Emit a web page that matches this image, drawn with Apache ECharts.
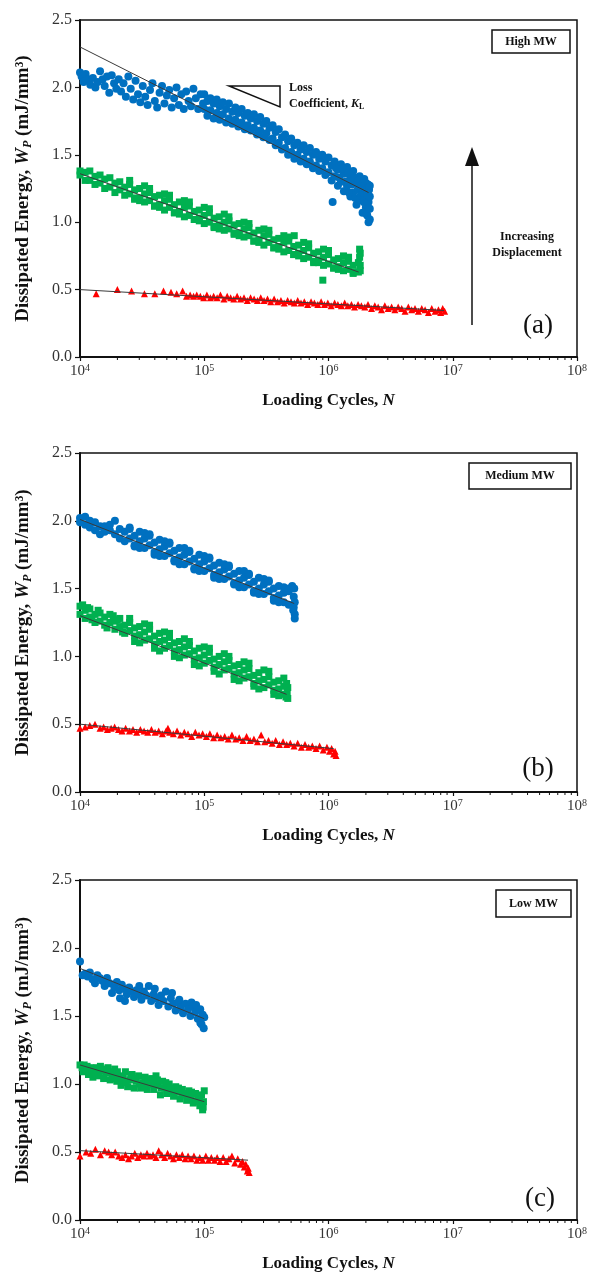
<!DOCTYPE html>
<html>
<head>
<meta charset="utf-8">
<script src="https://cdn.jsdelivr.net/npm/echarts@6/dist/echarts.min.js"></script>
<style>
  html, body { margin: 0; padding: 0; background: #fff; }
  #chart { width: 590px; height: 1273px; }
</style>
</head>
<body>
<div id="chart"></div>
<script>
// ---- data: [loading cycles N, dissipated energy W_P] ----
const highBlue = [[1.00e4,2.11],[1.03e4,2.08],[1.07e4,2.04],[1.11e4,2.10],[1.16e4,2.06],[1.21e4,2.02],[1.27e4,2.07],[1.33e4,2.00],[1.39e4,2.04],[1.45e4,2.12],[1.52e4,2.06],[1.58e4,2.01],[1.65e4,2.08],[1.72e4,1.96],[1.80e4,2.09],[1.88e4,2.03],[1.96e4,1.99],[2.05e4,2.06],[2.14e4,1.97],[2.24e4,2.03],[2.34e4,1.93],[2.45e4,2.08],[2.56e4,1.99],[2.68e4,1.91],[2.80e4,2.05],[2.93e4,1.95],[3.06e4,1.89],[3.20e4,2.01],[3.35e4,1.93],[3.50e4,1.87],[3.66e4,1.98],[3.83e4,2.03],[4.00e4,1.90],[4.18e4,1.85],[4.37e4,1.96],[4.57e4,2.01],[4.78e4,1.88],[5.00e4,1.94],[5.23e4,1.98],[5.47e4,1.85],[5.72e4,1.92],[5.98e4,2.00],[6.25e4,1.87],[6.54e4,1.95],[6.84e4,1.84],[7.15e4,1.97],[7.48e4,1.90],[7.82e4,1.86],[8.18e4,1.99],[8.55e4,1.92],[8.94e4,1.84],[9.35e4,1.95],[9.78e4,1.88],
  [1.00e5,1.95],[1.00e5,1.84],[1.06e5,1.90],[1.06e5,1.79],[1.12e5,1.92],[1.12e5,1.83],[1.19e5,1.88],[1.19e5,1.77],[1.26e5,1.91],[1.26e5,1.81],[1.33e5,1.86],[1.33e5,1.76],[1.41e5,1.89],[1.41e5,1.80],[1.50e5,1.84],[1.50e5,1.74],[1.58e5,1.88],[1.58e5,1.77],[1.68e5,1.82],[1.68e5,1.73],[1.78e5,1.85],[1.78e5,1.76],[1.88e5,1.81],[1.88e5,1.71],[2.00e5,1.84],[2.00e5,1.74],[2.12e5,1.79],[2.12e5,1.69],[2.24e5,1.81],[2.24e5,1.72],[2.37e5,1.77],[2.37e5,1.68],[2.51e5,1.80],[2.51e5,1.70],[2.66e5,1.75],[2.66e5,1.65],[2.82e5,1.78],[2.82e5,1.68],[2.99e5,1.73],[2.99e5,1.63],[3.16e5,1.75],[3.16e5,1.66],[3.35e5,1.70],[3.35e5,1.61],[3.55e5,1.72],[3.55e5,1.62],[3.76e5,1.67],[3.76e5,1.57],[3.98e5,1.69],[3.98e5,1.59],[4.22e5,1.63],[4.22e5,1.54],[4.47e5,1.65],[4.47e5,1.55],[4.73e5,1.60],[4.73e5,1.50],[5.01e5,1.62],[5.01e5,1.52],[5.31e5,1.57],[5.31e5,1.47],[5.62e5,1.59],[5.62e5,1.50],[5.96e5,1.54],[5.96e5,1.45],[6.31e5,1.57],[6.31e5,1.47],[6.68e5,1.52],[6.68e5,1.43],[7.08e5,1.55],[7.08e5,1.45],[7.50e5,1.50],[7.50e5,1.40],[7.94e5,1.52],[7.94e5,1.42],[8.41e5,1.47],[8.41e5,1.38],[8.91e5,1.50],[8.91e5,1.40],[9.44e5,1.45],[9.44e5,1.35],[1.00e6,1.48],[1.00e6,1.37],[1.06e6,1.42],[1.06e6,1.31],[1.08e6,1.15],[1.12e6,1.45],[1.12e6,1.34],[1.19e6,1.39],[1.19e6,1.27],[1.26e6,1.43],[1.26e6,1.30],[1.33e6,1.36],[1.33e6,1.23],[1.41e6,1.41],[1.41e6,1.27],[1.50e6,1.33],[1.50e6,1.19],[1.58e6,1.38],[1.58e6,1.22],[1.68e6,1.29],[1.68e6,1.13],[1.78e6,1.34],[1.78e6,1.17],[1.88e6,1.24],[1.88e6,1.07],[2.00e6,1.29],[2.00e6,1.11],
  [1.15e6,1.40],[1.22e6,1.33],[1.30e6,1.40],[1.37e6,1.30],[1.45e6,1.36],[1.46e6,1.22],[1.54e6,1.28],[1.62e6,1.33],[1.64e6,1.18],[1.72e6,1.24],[1.74e6,1.31],[1.82e6,1.20],[1.84e6,1.28],[1.92e6,1.15],[1.94e6,1.32],[1.96e6,1.20],[2.02e6,1.25],[2.03e6,1.06],
  [2.05e6,1.20],[2.05e6,1.05],[2.08e6,1.28],[2.10e6,1.00],[2.10e6,1.15],[2.12e6,1.24],[2.15e6,1.02],[2.15e6,1.10],[2.15e6,1.19],[2.15e6,1.27]];
const highGreen = [[1.00e4,1.38],[1.00e4,1.35],[1.10e4,1.37],[1.10e4,1.31],[1.20e4,1.38],[1.20e4,1.31],[1.32e4,1.34],[1.32e4,1.28],[1.45e4,1.35],[1.45e4,1.29],[1.58e4,1.32],[1.58e4,1.25],[1.74e4,1.33],[1.74e4,1.26],[1.91e4,1.29],[1.91e4,1.22],[2.09e4,1.30],[2.09e4,1.24],[2.29e4,1.26],[2.29e4,1.20],[2.51e4,1.28],[2.51e4,1.21],[2.75e4,1.24],[2.75e4,1.17],[3.02e4,1.25],[3.02e4,1.18],[3.31e4,1.21],[3.31e4,1.15],[3.63e4,1.22],[3.63e4,1.16],[3.98e4,1.19],[3.98e4,1.12],[4.37e4,1.20],[4.37e4,1.13],[4.79e4,1.16],[4.79e4,1.09],[5.25e4,1.17],[5.25e4,1.11],[5.75e4,1.13],[5.75e4,1.07],[6.31e4,1.15],[6.31e4,1.08],[6.92e4,1.11],[6.92e4,1.04],[7.59e4,1.12],[7.59e4,1.05],[8.32e4,1.08],[8.32e4,1.02],[9.12e4,1.09],[9.12e4,1.03],[1.00e5,1.05],[1.00e5,0.99],[1.10e5,1.07],[1.10e5,1.00],[1.20e5,1.03],[1.20e5,0.96],[1.32e5,1.04],[1.32e5,0.98],[1.45e5,1.00],[1.45e5,0.94],[1.58e5,1.01],[1.58e5,0.95],[1.74e5,0.98],[1.74e5,0.91],[1.91e5,0.99],[1.91e5,0.92],[2.09e5,0.95],[2.09e5,0.89],[2.29e5,0.96],[2.29e5,0.90],[2.51e5,0.92],[2.51e5,0.86],[2.75e5,0.94],[2.75e5,0.87],[3.02e5,0.90],[3.02e5,0.83],[3.31e5,0.91],[3.31e5,0.85],[3.63e5,0.87],[3.63e5,0.81],[3.98e5,0.88],[3.98e5,0.82],[4.37e5,0.85],[4.37e5,0.78],[4.79e5,0.86],[4.79e5,0.79],[5.25e5,0.82],[5.25e5,0.76],[5.30e5,0.90],[5.75e5,0.83],[5.75e5,0.77],[6.31e5,0.79],[6.31e5,0.73],[6.92e5,0.81],[6.92e5,0.74],[7.59e5,0.77],[7.59e5,0.70],[8.32e5,0.78],[8.32e5,0.72],[9.00e5,0.57],[9.12e5,0.74],[9.12e5,0.68],[1.00e6,0.76],[1.00e6,0.69],[1.10e6,0.72],[1.10e6,0.66],[1.20e6,0.73],[1.20e6,0.67],[1.32e6,0.70],[1.32e6,0.64],[1.45e6,0.71],[1.45e6,0.65],[1.58e6,0.68],[1.58e6,0.63],[1.74e6,0.70],[1.74e6,0.63],[1.78e6,0.80],[1.78e6,0.74],[1.80e6,0.68],[1.80e6,0.77],[1.80e6,0.64],
  [2.51e4,1.31],[2.75e4,1.18],[3.02e4,1.16],[3.31e4,1.27],[3.63e4,1.25],[3.98e4,1.12],[4.37e4,1.11],[4.79e4,1.21],[5.25e4,1.20],[5.75e4,1.07],[6.31e4,1.06],[6.92e4,1.16],[7.59e4,1.15],[8.32e4,1.02],[9.12e4,1.01],[1.00e5,1.11],[1.10e5,1.10],[1.20e5,0.97],[1.32e5,0.95],[1.45e5,1.06],[1.58e5,1.04],[1.74e5,0.92],[1.91e5,0.90],[2.09e5,1.00],[2.29e5,0.99],[2.51e5,0.86],[2.75e5,0.85],[3.02e5,0.95],[3.31e5,0.94],[3.63e5,0.81],[3.98e5,0.80],[4.37e5,0.90],[4.79e5,0.89],[5.25e5,0.76],[5.75e5,0.75],[6.31e5,0.85],[6.92e5,0.84],[7.59e5,0.71],[8.32e5,0.70],[9.12e5,0.80],[1.00e6,0.79],[1.10e6,0.66],[1.20e6,0.65],[1.32e6,0.75],[1.45e6,0.74],[1.58e6,0.62]];
const highRed = [[1.35e4,0.47],[2.0e4,0.50],[2.6e4,0.49],[3.3e4,0.47],[4.0e4,0.47],[4.7e4,0.49],[5.4e4,0.48],[6.0e4,0.47],[6.7e4,0.49],[7.2e4,0.45],[7.7e4,0.46],[8.2e4,0.45],[8.7e4,0.46],[9.3e4,0.45],[9.9e4,0.44],[1.05e5,0.46],[1.12e5,0.44],[1.19e5,0.45],[1.27e5,0.44],[1.35e5,0.46],[1.44e5,0.43],[1.53e5,0.45],[1.63e5,0.44],[1.73e5,0.43],[1.84e5,0.45],[1.96e5,0.43],[2.09e5,0.44],[2.22e5,0.42],[2.36e5,0.44],[2.52e5,0.43],[2.68e5,0.42],[2.85e5,0.44],[3.03e5,0.42],[3.23e5,0.43],[3.43e5,0.41],[3.65e5,0.43],[3.89e5,0.41],[4.14e5,0.42],[4.40e5,0.40],[4.69e5,0.42],[4.99e5,0.41],[5.31e5,0.40],[5.65e5,0.42],[6.01e5,0.40],[6.39e5,0.41],[6.80e5,0.39],[7.24e5,0.41],[7.70e5,0.40],[8.20e5,0.39],[8.72e5,0.41],[9.28e5,0.39],[9.87e5,0.40],[1.05e6,0.38],[1.12e6,0.40],[1.19e6,0.39],[1.27e6,0.38],[1.35e6,0.40],[1.43e6,0.38],[1.53e6,0.39],[1.62e6,0.37],[1.73e6,0.39],[1.84e6,0.38],[1.96e6,0.37],[2.08e6,0.39],[2.22e6,0.36],[2.36e6,0.38],[2.51e6,0.37],[2.67e6,0.35],[2.84e6,0.38],[3.02e6,0.36],[3.22e6,0.37],[3.42e6,0.35],[3.64e6,0.37],[3.88e6,0.36],[4.13e6,0.34],[4.39e6,0.37],[4.67e6,0.35],[4.97e6,0.36],[5.29e6,0.34],[5.63e6,0.36],[5.99e6,0.35],[6.37e6,0.33],[6.78e6,0.36],[7.21e6,0.34],[7.67e6,0.35],[8.00e6,0.33],[8.30e6,0.36],[8.60e6,0.34]];

const mediumBlue = [[1.00e4,2.02],[1.00e4,1.99],[1.10e4,2.03],[1.10e4,1.97],[1.20e4,2.00],[1.20e4,1.95],[1.32e4,1.99],[1.32e4,1.93],[1.45e4,1.96],[1.45e4,1.90],[1.58e4,1.96],[1.58e4,1.92],[1.74e4,1.97],[1.74e4,1.93],[1.91e4,2.00],[1.91e4,1.90],[2.09e4,1.94],[2.09e4,1.87],[2.29e4,1.92],[2.29e4,1.85],[2.51e4,1.94],[2.51e4,1.87],[2.75e4,1.89],[2.75e4,1.82],[3.02e4,1.92],[3.02e4,1.85],[3.31e4,1.87],[3.31e4,1.80],[3.63e4,1.89],[3.63e4,1.82],[3.98e4,1.84],[3.98e4,1.77],[4.37e4,1.86],[4.37e4,1.79],[4.79e4,1.81],[4.79e4,1.74],[5.25e4,1.83],[5.25e4,1.76],[5.75e4,1.78],[5.75e4,1.71],[6.31e4,1.80],[6.31e4,1.73],[6.92e4,1.75],[6.92e4,1.68],[7.59e4,1.77],[7.59e4,1.70],[8.32e4,1.72],[8.32e4,1.65],[9.12e4,1.75],[9.12e4,1.68],[1.00e5,1.70],[1.00e5,1.63],[1.10e5,1.72],[1.10e5,1.65],[1.20e5,1.67],[1.20e5,1.60],[1.32e5,1.69],[1.32e5,1.62],[1.45e5,1.64],[1.45e5,1.57],[1.58e5,1.66],[1.58e5,1.59],[1.74e5,1.61],[1.74e5,1.54],[1.91e5,1.63],[1.91e5,1.56],[2.09e5,1.58],[2.09e5,1.51],[2.29e5,1.60],[2.29e5,1.53],[2.51e5,1.55],[2.51e5,1.48],[2.75e5,1.58],[2.75e5,1.50],[3.02e5,1.53],[3.02e5,1.46],[3.31e5,1.55],[3.31e5,1.48],[3.63e5,1.50],[3.63e5,1.43],[3.98e5,1.52],[3.98e5,1.45],[4.37e5,1.47],[4.37e5,1.40],[4.79e5,1.48],[4.79e5,1.38],[5.10e5,1.52],[5.20e5,1.34],[5.25e5,1.44],[5.25e5,1.36],[5.30e5,1.50],[5.35e5,1.40],[5.35e5,1.31],[5.35e5,1.28],
  [2.51e4,1.95],[2.75e4,1.81],[3.02e4,1.80],[3.31e4,1.91],[3.63e4,1.90],[3.98e4,1.75],[4.37e4,1.74],[4.79e4,1.85],[5.25e4,1.84],[5.75e4,1.70],[6.31e4,1.68],[6.92e4,1.80],[7.59e4,1.78],[8.32e4,1.64],[9.12e4,1.63],[1.00e5,1.74],[1.10e5,1.73],[1.20e5,1.58],[1.32e5,1.57],[1.45e5,1.68],[1.58e5,1.67],[1.74e5,1.53],[1.91e5,1.51],[2.09e5,1.63],[2.29e5,1.61],[2.51e5,1.47],[2.75e5,1.46],[3.02e5,1.57],[3.31e5,1.56],[3.63e5,1.41],[3.98e5,1.40],[4.37e5,1.51],[4.79e5,1.50]];
const mediumGreen = [[1.00e4,1.37],[1.00e4,1.31],[1.10e4,1.34],[1.10e4,1.28],[1.20e4,1.35],[1.20e4,1.29],[1.32e4,1.31],[1.32e4,1.25],[1.45e4,1.32],[1.45e4,1.26],[1.58e4,1.29],[1.58e4,1.23],[1.74e4,1.31],[1.74e4,1.25],[1.91e4,1.26],[1.91e4,1.20],[2.09e4,1.28],[2.09e4,1.22],[2.29e4,1.23],[2.29e4,1.17],[2.51e4,1.25],[2.51e4,1.19],[2.75e4,1.21],[2.75e4,1.15],[3.02e4,1.22],[3.02e4,1.16],[3.31e4,1.18],[3.31e4,1.12],[3.63e4,1.20],[3.63e4,1.13],[3.98e4,1.15],[3.98e4,1.09],[4.37e4,1.17],[4.37e4,1.11],[4.79e4,1.12],[4.79e4,1.06],[5.25e4,1.14],[5.25e4,1.08],[5.75e4,1.10],[5.75e4,1.04],[6.31e4,1.11],[6.31e4,1.05],[6.92e4,1.07],[6.92e4,1.01],[7.59e4,1.08],[7.59e4,1.02],[8.32e4,1.04],[8.32e4,0.98],[9.12e4,1.06],[9.12e4,0.99],[1.00e5,1.01],[1.00e5,0.95],[1.10e5,1.03],[1.10e5,0.97],[1.20e5,0.98],[1.20e5,0.92],[1.32e5,1.00],[1.32e5,0.94],[1.45e5,0.96],[1.45e5,0.90],[1.58e5,0.97],[1.58e5,0.91],[1.74e5,0.93],[1.74e5,0.87],[1.91e5,0.94],[1.91e5,0.88],[2.09e5,0.90],[2.09e5,0.84],[2.29e5,0.91],[2.29e5,0.85],[2.51e5,0.86],[2.51e5,0.80],[2.75e5,0.88],[2.75e5,0.82],[3.02e5,0.83],[3.02e5,0.77],[3.31e5,0.85],[3.31e5,0.79],[3.63e5,0.81],[3.63e5,0.75],[3.98e5,0.82],[3.98e5,0.76],[4.37e5,0.78],[4.37e5,0.72],[4.55e5,0.70],[4.60e5,0.80],[4.65e5,0.74],[4.70e5,0.69],[4.70e5,0.77],
  [1.05e4,1.38],[1.15e4,1.36],[1.25e4,1.27],[1.40e4,1.34],[1.65e4,1.21],[1.85e4,1.30],[2.00e4,1.27],[2.20e4,1.18],[2.51e4,1.28],[2.75e4,1.11],[3.02e4,1.10],[3.31e4,1.24],[3.63e4,1.23],[3.98e4,1.06],[4.37e4,1.04],[4.79e4,1.18],[5.25e4,1.17],[5.75e4,1.00],[6.31e4,0.99],[6.92e4,1.13],[7.59e4,1.11],[8.32e4,0.94],[9.12e4,0.93],[1.00e5,1.07],[1.10e5,1.06],[1.20e5,0.89],[1.32e5,0.87],[1.45e5,1.02],[1.58e5,1.00],[1.74e5,0.83],[1.91e5,0.82],[2.09e5,0.96],[2.29e5,0.95],[2.51e5,0.78],[2.75e5,0.76],[3.02e5,0.90],[3.31e5,0.89],[3.63e5,0.72],[3.98e5,0.71],[4.37e5,0.84]];
const mediumRed = [[1.00e4,0.47],[1.10e4,0.48],[1.20e4,0.49],[1.32e4,0.50],[1.45e4,0.47],[1.55e4,0.48],[1.66e4,0.46],[1.78e4,0.47],[1.90e4,0.48],[2.04e4,0.46],[2.18e4,0.45],[2.33e4,0.47],[2.50e4,0.45],[2.67e4,0.46],[2.86e4,0.44],[3.06e4,0.46],[3.28e4,0.45],[3.51e4,0.44],[3.76e4,0.46],[4.02e4,0.44],[4.30e4,0.45],[4.60e4,0.43],[4.93e4,0.45],[5.10e4,0.47],[5.27e4,0.44],[5.64e4,0.43],[6.04e4,0.45],[6.46e4,0.42],[6.91e4,0.44],[7.40e4,0.43],[7.92e4,0.41],[8.47e4,0.44],[9.07e4,0.42],[9.70e4,0.43],[1.04e5,0.41],[1.11e5,0.43],[1.19e5,0.40],[1.27e5,0.42],[1.36e5,0.40],[1.46e5,0.41],[1.56e5,0.39],[1.67e5,0.42],[1.79e5,0.39],[1.91e5,0.40],[2.05e5,0.38],[2.19e5,0.41],[2.34e5,0.38],[2.51e5,0.39],[2.68e5,0.37],[2.87e5,0.42],[3.07e5,0.37],[3.29e5,0.38],[3.52e5,0.36],[3.76e5,0.38],[4.03e5,0.35],[4.31e5,0.37],[4.61e5,0.35],[4.93e5,0.36],[5.28e5,0.34],[5.65e5,0.36],[6.05e5,0.33],[6.47e5,0.35],[6.92e5,0.33],[7.41e5,0.34],[7.93e5,0.32],[8.48e5,0.34],[9.07e5,0.31],[9.71e5,0.33],[1.02e6,0.30],[1.06e6,0.32],[1.10e6,0.28],[1.13e6,0.30],[1.15e6,0.27]];

const lowBlue = [[1.00e4,1.90],[1.05e4,1.80],[1.10e4,1.81],[1.15e4,1.79],[1.20e4,1.82],[1.26e4,1.77],[1.32e4,1.74],[1.38e4,1.80],[1.44e4,1.78],[1.51e4,1.76],[1.58e4,1.72],[1.65e4,1.78],[1.73e4,1.74],[1.81e4,1.67],[1.89e4,1.71],[1.98e4,1.75],[2.07e4,1.69],[2.10e4,1.63],[2.17e4,1.73],[2.27e4,1.70],[2.30e4,1.61],[2.38e4,1.66],[2.49e4,1.71],[2.60e4,1.68],[2.72e4,1.64],[2.85e4,1.69],[2.98e4,1.66],[3.00e4,1.72],[3.12e4,1.62],[3.27e4,1.68],[3.42e4,1.65],[3.58e4,1.72],[3.74e4,1.61],[3.92e4,1.66],[4.00e4,1.70],[4.10e4,1.63],[4.29e4,1.58],[4.49e4,1.65],[4.70e4,1.61],[4.91e4,1.68],[5.14e4,1.57],[5.38e4,1.63],[5.50e4,1.67],[5.63e4,1.59],[5.89e4,1.54],[6.17e4,1.60],[6.30e4,1.62],[6.45e4,1.56],[6.75e4,1.52],[7.07e4,1.59],[7.40e4,1.55],[7.74e4,1.50],[7.90e4,1.60],[8.10e4,1.57],[8.47e4,1.53],[8.60e4,1.58],[8.87e4,1.48],[9.28e4,1.55],[9.30e4,1.45],[9.50e4,1.44],[9.71e4,1.51],[9.90e4,1.41],[1.00e5,1.49]];
const lowGreen = [[1.00e4,1.14],[1.04e4,1.12],[1.08e4,1.14],[1.12e4,1.10],[1.17e4,1.07],[1.22e4,1.12],[1.27e4,1.05],[1.32e4,1.09],[1.37e4,1.12],[1.43e4,1.06],[1.49e4,1.10],[1.55e4,1.04],[1.61e4,1.08],[1.68e4,1.12],[1.75e4,1.03],[1.82e4,1.07],[1.90e4,1.11],[1.98e4,1.02],[2.06e4,1.06],[2.14e4,0.99],[2.23e4,1.05],[2.32e4,1.09],[2.42e4,0.98],[2.52e4,1.03],[2.62e4,1.07],[2.73e4,0.97],[2.84e4,1.02],[2.96e4,1.06],[3.08e4,0.97],[3.21e4,1.01],[3.34e4,1.05],[3.48e4,0.96],[3.62e4,1.00],[3.77e4,1.04],[3.93e4,0.96],[4.09e4,1.06],[4.26e4,0.99],[4.44e4,0.92],[4.62e4,1.02],[4.81e4,0.97],[5.01e4,0.93],[5.22e4,1.00],[5.43e4,0.95],[5.66e4,0.91],[5.89e4,0.98],[6.14e4,0.94],[6.39e4,0.89],[6.66e4,0.96],[6.93e4,0.92],[7.22e4,0.88],[7.52e4,0.95],[7.83e4,0.90],[8.16e4,0.86],[8.50e4,0.93],[8.85e4,0.89],[9.22e4,0.84],[9.50e4,0.92],[9.70e4,0.81],[9.85e4,0.87],[1.00e5,0.95],
  [1.06e4,1.09],[1.14e4,1.13],[1.24e4,1.10],[1.35e4,1.07],[1.46e4,1.13],[1.58e4,1.11],[1.72e4,1.09],[1.86e4,1.04],[2.00e4,1.09],[2.18e4,1.04],[2.36e4,1.01],[2.56e4,1.06],[2.78e4,1.04],[3.00e4,1.00],[3.25e4,0.98],[3.55e4,1.03],[3.85e4,1.00],[4.20e4,1.03],[4.50e4,0.97],[4.90e4,1.01],[5.30e4,0.97],[5.70e4,0.94],[6.20e4,0.97],[6.70e4,0.93],[7.30e4,0.91],[7.90e4,0.94],[8.60e4,0.87],[9.20e4,0.90],[9.60e4,0.86],[9.80e4,0.83]];
const lowRed = [[1.00e4,0.47],[1.12e4,0.50],[1.22e4,0.49],[1.33e4,0.52],[1.46e4,0.48],[1.58e4,0.51],[1.70e4,0.50],[1.80e4,0.48],[1.92e4,0.50],[2.05e4,0.47],[2.18e4,0.46],[2.32e4,0.48],[2.46e4,0.45],[2.60e4,0.47],[2.76e4,0.49],[2.92e4,0.46],[3.09e4,0.48],[3.27e4,0.47],[3.46e4,0.49],[3.66e4,0.47],[3.87e4,0.48],[4.09e4,0.46],[4.30e4,0.51],[4.55e4,0.48],[4.80e4,0.46],[5.07e4,0.49],[5.35e4,0.47],[5.65e4,0.45],[5.97e4,0.48],[6.30e4,0.46],[6.65e4,0.48],[7.02e4,0.45],[7.41e4,0.47],[7.82e4,0.45],[8.26e4,0.47],[8.72e4,0.44],[9.20e4,0.46],[9.71e4,0.44],[1.03e5,0.47],[1.08e5,0.44],[1.14e5,0.46],[1.21e5,0.44],[1.27e5,0.46],[1.34e5,0.43],[1.42e5,0.46],[1.50e5,0.43],[1.58e5,0.45],[1.67e5,0.47],[1.76e5,0.42],[1.86e5,0.45],[1.96e5,0.41],[2.03e5,0.43],[2.10e5,0.39],[2.16e5,0.41],[2.22e5,0.36],[2.26e5,0.38],[2.30e5,0.35]];

// fitted trend lines (end points)
const highFits = [[[1e4,2.30],[2.1e6,1.22]], [[1e4,1.36],[1.75e6,0.63]], [[1e4,0.50],[8.5e6,0.345]]];
const mediumFits = [[[1e4,2.01],[5.3e5,1.39]], [[1e4,1.30],[4.6e5,0.72]], [[1e4,0.50],[1.1e6,0.32]]];
const lowFits = [[[1e4,1.85],[1e5,1.48]], [[1e4,1.14],[1e5,0.87]], [[1e4,0.51],[2.25e5,0.44]]];

// minor tick positions on the log axis (2..9 x 10^k)
const minorTickValues = [];
[1e4, 1e5, 1e6, 1e7].forEach(d => [2, 3, 4, 5, 6, 7, 8, 9].forEach(m => minorTickValues.push([m * d, 0])));

const panelTags = ['High MW', 'Medium MW', 'Low MW'];
const panelLetters = ['(a)', '(b)', '(c)'];

const serif = '"Liberation Serif", "Times New Roman", serif';
const colors = { blue: '#0070C0', green: '#00B050', red: '#FF0000' };

// layout of the three plot boxes
const grids = [
  { left: 80, top: 20, width: 498, height: 337 },
  { left: 80, top: 453, width: 498, height: 339 },
  { left: 80, top: 880, width: 498, height: 344 }
];

const panels = [
  { blue: highBlue, green: highGreen, red: highRed, fits: highFits },
  { blue: mediumBlue, green: mediumGreen, red: mediumRed, fits: mediumFits },
  { blue: lowBlue, green: lowGreen, red: lowRed, fits: lowFits }
];

const chart = echarts.init(document.getElementById('chart'));

const xAxes = grids.map((g, i) => ({
  type: 'log',
  logBase: 10,
  gridIndex: i,
  min: 1e4,
  max: 1e8,
  name: '{b|Loading Cycles, }{bi|N}',
  nameLocation: 'middle',
  nameGap: 35,
  nameTextStyle: {
    rich: {
      b: { fontFamily: serif, fontWeight: 'bold', fontSize: 17, color: '#111' },
      bi: { fontFamily: serif, fontWeight: 'bold', fontStyle: 'italic', fontSize: 17, color: '#111' }
    }
  },
  axisLine: { lineStyle: { color: '#111', width: 2 } },
  axisTick: { inside: false, length: 4, lineStyle: { color: '#111', width: 1.2 } },
  minorTick: { show: false },
  splitLine: { show: false },
  axisLabel: {
    margin: 6,
    formatter: v => '{b|10}{s|' + Math.round(Math.log10(v)) + '}',
    rich: {
      b: { fontFamily: serif, fontSize: 15, color: '#333', lineHeight: 16, verticalAlign: 'bottom' },
      s: { fontFamily: serif, fontSize: 10, color: '#333', lineHeight: 16, verticalAlign: 'top' }
    }
  }
}));

const yAxes = grids.map((g, i) => ({
  type: 'value',
  gridIndex: i,
  min: 0,
  max: 2.5,
  interval: 0.5,
  name: '{b|Dissipated Energy, }{bi|W}{sub|P}{b| (mJ/mm³)}',
  nameLocation: 'middle',
  nameRotate: 90,
  nameGap: 46,
  nameTextStyle: {
    rich: {
      b: { fontFamily: serif, fontWeight: 'bold', fontSize: 19, color: '#111', lineHeight: 21 },
      bi: { fontFamily: serif, fontWeight: 'bold', fontStyle: 'italic', fontSize: 19, color: '#111', lineHeight: 21 },
      sub: { fontFamily: serif, fontWeight: 'bold', fontStyle: 'italic', fontSize: 12, color: '#111', lineHeight: 21, verticalAlign: 'bottom' }
    }
  },
  axisLine: { show: true, lineStyle: { color: '#111', width: 2 } },
  axisTick: { show: true, length: 5, lineStyle: { color: '#111', width: 1.2 } },
  splitLine: { show: false },
  axisLabel: {
    fontFamily: serif, fontSize: 16, color: '#333', margin: 8,
    formatter: v => v.toFixed(1)
  }
}));

const series = [];
panels.forEach((p, i) => {
  series.push({
    type: 'scatter', xAxisIndex: i, yAxisIndex: i, data: p.blue,
    symbol: 'circle', symbolSize: 8, itemStyle: { color: colors.blue, opacity: 1 }, silent: true
  });
  series.push({
    type: 'scatter', xAxisIndex: i, yAxisIndex: i, data: p.green,
    symbol: 'rect', symbolSize: 7, itemStyle: { color: colors.green, opacity: 1 }, silent: true
  });
  series.push({
    type: 'scatter', xAxisIndex: i, yAxisIndex: i, data: p.red,
    symbol: 'triangle', symbolSize: 7, itemStyle: { color: colors.red, opacity: 1 }, silent: true
  });
  p.fits.forEach(f => {
    series.push({
      type: 'line', xAxisIndex: i, yAxisIndex: i, data: f, z: 5,
      showSymbol: false, symbol: 'none', silent: true,
      lineStyle: { color: '#3a3a3a', width: 1 }
    });
  });
  // minor ticks below the x axis
  series.push({
    type: 'custom', xAxisIndex: i, yAxisIndex: i, data: minorTickValues, z: 6, silent: true, clip: false,
    renderItem: (params, api) => {
      const pt = api.coord([api.value(0), 0]);
      return {
        type: 'line',
        shape: { x1: pt[0], y1: pt[1], x2: pt[0], y2: pt[1] + 3 },
        style: { stroke: '#111', lineWidth: 1 }
      };
    }
  });
});

// annotation boxes, panel letters and the arrow / loss-coefficient sketch
const tagBoxes = [
  { x: 492, y: 30, w: 78, h: 23 },
  { x: 469, y: 463, w: 102, h: 26 },
  { x: 496, y: 890, w: 75, h: 27 }
];
const letterPos = [[538, 326], [538, 769], [540, 1199]];

const graphic = [];
tagBoxes.forEach((b, i) => {
  graphic.push({
    type: 'rect', shape: { x: b.x, y: b.y, width: b.w, height: b.h },
    style: { fill: '#fff', stroke: '#111', lineWidth: 1.5 }, z: 10
  });
  graphic.push({
    type: 'text', x: b.x + b.w / 2, y: b.y + b.h / 2, z: 11,
    style: { text: panelTags[i], fontFamily: serif, fontWeight: 'bold', fontSize: 12, fill: '#111', align: 'center', verticalAlign: 'middle' }
  });
  graphic.push({
    type: 'text', x: letterPos[i][0], y: letterPos[i][1], z: 11,
    style: { text: panelLetters[i], fontFamily: serif, fontSize: 27, fill: '#111', align: 'center', verticalAlign: 'middle' }
  });
});
// loss coefficient triangle
graphic.push({
  type: 'polygon', z: 10,
  shape: { points: [[229, 86], [280, 86], [280, 107]] },
  style: { fill: 'none', stroke: '#111', lineWidth: 1.5 }
});
graphic.push({
  type: 'text', x: 289, y: 88, z: 11,
  style: { text: 'Loss', fontFamily: serif, fontWeight: 'bold', fontSize: 12, fill: '#111', verticalAlign: 'middle' }
});
graphic.push({
  type: 'text', x: 289, y: 104, z: 11,
  style: {
    text: '{b|Coefficient, }{bi|K}{sub|L}', verticalAlign: 'middle',
    rich: {
      b: { fontFamily: serif, fontWeight: 'bold', fontSize: 12, fill: '#111', lineHeight: 14 },
      bi: { fontFamily: serif, fontWeight: 'bold', fontStyle: 'italic', fontSize: 12, fill: '#111', lineHeight: 14 },
      sub: { fontFamily: serif, fontWeight: 'bold', fontSize: 8, fill: '#111', lineHeight: 14, verticalAlign: 'bottom' }
    }
  }
});
// increasing displacement arrow
graphic.push({
  type: 'line', z: 10, shape: { x1: 472, y1: 325, x2: 472, y2: 162 },
  style: { stroke: '#111', lineWidth: 1.5 }
});
graphic.push({
  type: 'polygon', z: 10,
  shape: { points: [[472, 147], [465, 166], [479, 166]] },
  style: { fill: '#111' }
});
graphic.push({
  type: 'text', x: 527, y: 237, z: 11,
  style: { text: 'Increasing', fontFamily: serif, fontWeight: 'bold', fontSize: 12, fill: '#111', align: 'center', verticalAlign: 'middle' }
});
graphic.push({
  type: 'text', x: 527, y: 253, z: 11,
  style: { text: 'Displacement', fontFamily: serif, fontWeight: 'bold', fontSize: 12, fill: '#111', align: 'center', verticalAlign: 'middle' }
});

chart.setOption({
  animation: false,
  backgroundColor: '#fff',
  grid: grids.map(g => Object.assign({ show: true, borderColor: '#111', borderWidth: 1.5, backgroundColor: 'transparent' }, g)),
  xAxis: xAxes,
  yAxis: yAxes,
  series: series,
  graphic: graphic
});
</script>
</body>
</html>
